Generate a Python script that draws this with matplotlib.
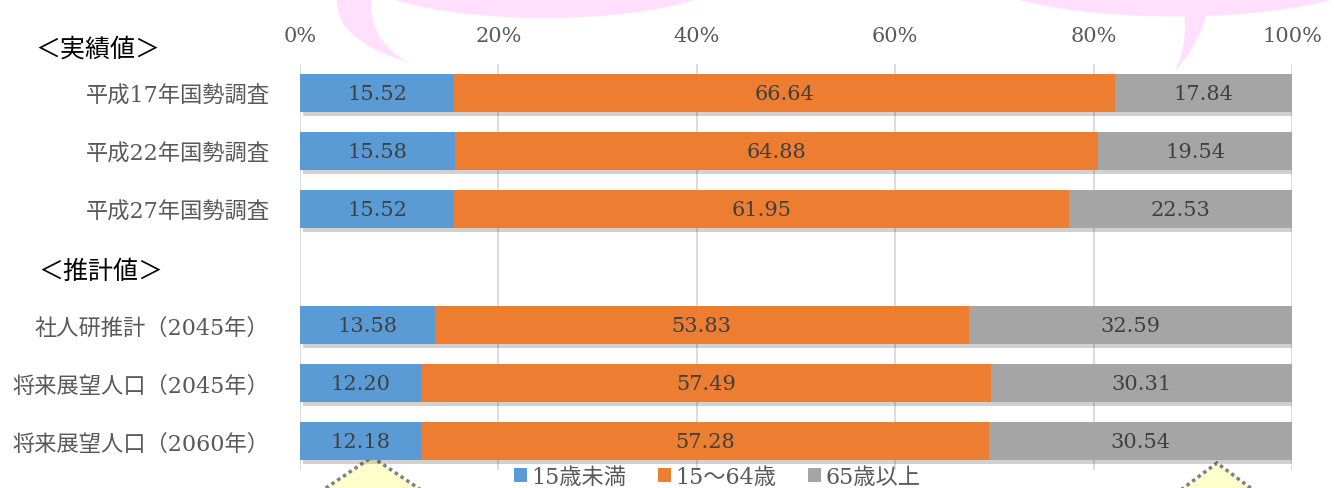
import numpy as np
import matplotlib
matplotlib.use("Agg")
import matplotlib.pyplot as plt
import matplotlib.patheffects as pe
from matplotlib.patches import Ellipse, Polygon, PathPatch
from matplotlib.path import Path

plt.rcParams["font.family"] = ["DejaVu Serif", "Noto Sans CJK JP"]

# data (percent shares); empty slot separates actual and projected values
categories = ["平成17年国勢調査", "平成22年国勢調査", "平成27年国勢調査", "",
              "社人研推計（2045年）", "将来展望人口（2045年）", "将来展望人口（2060年）"]
young = [15.52, 15.58, 15.52, np.nan, 13.58, 12.20, 12.18]
working = [66.64, 64.88, 61.95, np.nan, 53.83, 57.49, 57.28]
elderly = [17.84, 19.54, 22.53, np.nan, 32.59, 30.31, 30.54]
series_names = ["15歳未満", "15～64歳", "65歳以上"]
colors = ["#5B9BD5", "#ED7D31", "#A5A5A5"]
xticks = [0, 20, 40, 60, 80, 100]
section_labels = ["＜実績値＞", "＜推計値＞"]

W, H = 1334, 489
fig = plt.figure(figsize=(W / 100, H / 100), dpi=100)

# background layer in pixel coordinates for the decorations
bg = fig.add_axes([0, 0, 1, 1], zorder=0)
bg.set_xlim(0, W)
bg.set_ylim(H, 0)
bg.axis("off")

pink = "#FFDFFC"
bg.add_patch(Ellipse((545, -25), 370, 88, color=pink, lw=0))
bg.add_patch(PathPatch(Path([(337, -2), (333, 40), (407, 63), (366, 38), (372, -2), (337, -2)],
                            [Path.MOVETO, Path.CURVE3, Path.CURVE3, Path.CURVE3, Path.CURVE3,
                             Path.CLOSEPOLY]), color=pink, lw=0))
bg.add_patch(Ellipse((1175, -30), 410, 95, color=pink, lw=0))
bg.add_patch(PathPatch(Path([(1184, 10), (1188, 50), (1174, 73), (1200, 45), (1208, 10), (1184, 10)],
                            [Path.MOVETO, Path.CURVE3, Path.CURVE3, Path.CURVE3, Path.CURVE3,
                             Path.CLOSEPOLY]), color=pink, lw=0))

for apex, half in [((372, 458), 52), ((1217, 464), 47)]:
    ax0, ay0 = apex
    tri = Polygon([(ax0 - half, ay0 + 35), apex, (ax0 + half, ay0 + 35)], closed=False,
                  facecolor="#FFFFCC", edgecolor="#7F7F7F", lw=2.5, linestyle=(0, (1, 1)))
    bg.add_patch(tri)

bg.text(35, 50, section_labels[0], fontsize=18, color="#000000", va="center", ha="left")
bg.text(38, 272, section_labels[1], fontsize=18, color="#000000", va="center", ha="left")

# main chart
ax = fig.add_axes([300 / W, 1 - 471 / H, 992 / W, 406 / H], zorder=1)
ax.patch.set_alpha(0)
y = np.arange(len(categories))
left = np.zeros(len(categories))
shadow = [pe.SimplePatchShadow(offset=(2, -3), shadow_rgbFace="k", alpha=0.18), pe.Normal()]
for name, vals, c in zip(series_names, [young, working, elderly], colors):
    vals = np.array(vals, dtype=float)
    bars = ax.barh(y, np.nan_to_num(vals), left=left, height=0.66, color=c, label=name,
                   zorder=3)
    for b, v, l in zip(bars, vals, left):
        if np.isnan(v):
            b.set_visible(False)
            continue
        b.set_path_effects(shadow)
        ax.text(l + v / 2, b.get_y() + b.get_height() / 2, f"{v:.2f}", ha="center",
                va="center", fontsize=15, color="#404040", zorder=4)
    left = left + np.nan_to_num(vals)

ax.set_xlim(0, 100)
ax.set_ylim(len(categories) - 0.5, -0.5)
ax.set_xticks(xticks)
ax.set_xticklabels([f"{t}%" for t in xticks])
ax.xaxis.tick_top()
ax.set_yticks(y)
ax.set_yticklabels(categories)
ax.tick_params(axis="x", length=0, pad=14, labelsize=15, labelcolor="#595959")
ax.tick_params(axis="y", length=0, pad=22, labelsize=16, labelcolor="#595959")
ax.grid(axis="x", color="#D9D9D9", lw=1.3, zorder=0)
for s in ax.spines.values():
    s.set_visible(False)

leg = fig.legend(loc="center", bbox_to_anchor=(717 / W, 1 - 478 / H), ncol=3, frameon=False,
                 fontsize=16, handlelength=0.6, handleheight=0.6, handletextpad=0.2,
                 columnspacing=1.4, labelcolor="#595959")
for h in leg.legend_handles:
    h.set_path_effects([])

fig.savefig("out.png", dpi=100)
